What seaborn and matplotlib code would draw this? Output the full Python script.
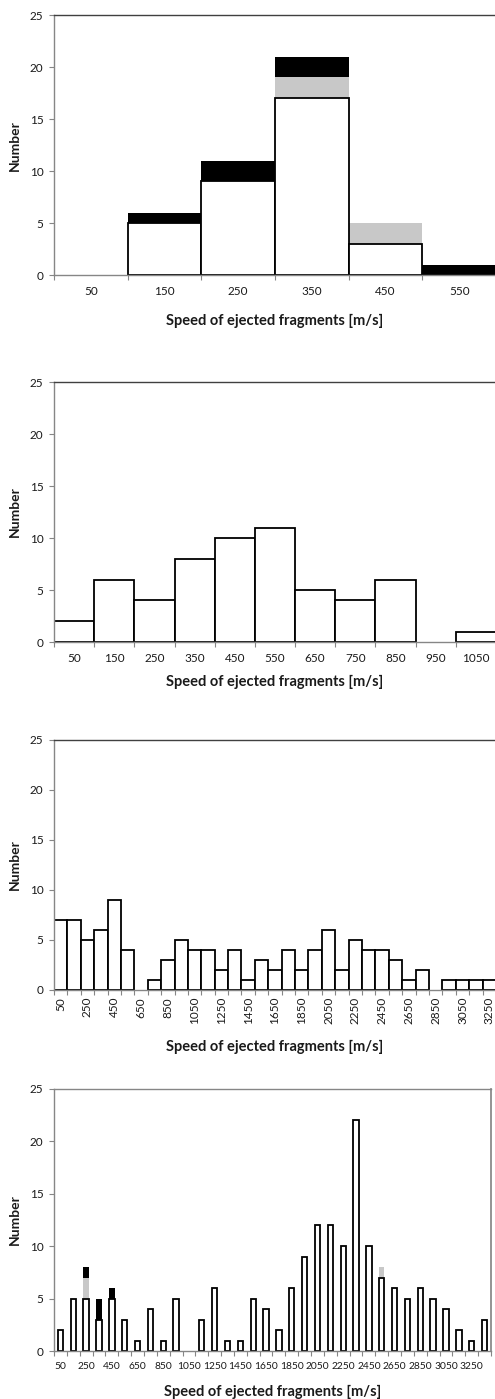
import numpy as np
import pandas as pd
import matplotlib
matplotlib.use("Agg")
import matplotlib.pyplot as plt
import seaborn as sns

# panel 1: stacked (white / grey / black)
cats1 = [50, 150, 250, 350, 450, 550]
white1 = [0, 5, 9, 17, 3, 0]
grey1 = [0, 0, 0, 2, 2, 0]
black1 = [0, 1, 2, 2, 0, 1]

# panel 2
cats2 = [50, 150, 250, 350, 450, 550, 650, 750, 850, 950, 1050]
white2 = [2, 6, 4, 8, 10, 11, 5, 4, 6, 0, 1]

# panel 3
cats3 = list(range(50, 3251, 100))
white3 = [7, 7, 5, 6, 9, 4, 0, 1, 3, 5, 4, 4, 2, 4, 1, 3, 2, 4, 2, 4,
          6, 2, 5, 4, 4, 3, 1, 2, 0, 1, 1, 1, 1]

# panel 4: stacked
cats4 = list(range(50, 3351, 100))
white4 = [2, 5, 5, 3, 5, 3, 1, 4, 1, 5, 0, 3, 6, 1, 1, 5, 4, 2, 6, 9,
          12, 12, 10, 22, 10, 7, 6, 5, 6, 5, 4, 2, 1, 3]
grey4 = [0, 0, 2, 0, 0, 0, 0, 0, 0, 0, 0, 0, 0, 0, 0, 0, 0, 0, 0, 0,
         0, 0, 0, 0, 0, 1, 0, 0, 0, 0, 0, 0, 0, 0]
black4 = [0, 0, 1, 2, 1, 0, 0, 0, 0, 0, 0, 0, 0, 0, 0, 0, 0, 0, 0, 0,
          0, 0, 0, 0, 0, 0, 0, 0, 0, 0, 0, 0, 0, 0]

YTICKS = [0, 5, 10, 15, 20, 25]
XLABEL = "Speed of ejected fragments [m/s]"
SPINE = "#868686"
GREY = "#C8C8C8"
TEXT = "#1a1a1a"

sns.set_theme(style="white")
plt.rcParams["font.family"] = ["Lato", "DejaVu Sans"]


def draw_panel(ax, cats, white, grey=None, black=None, width=1.0,
               label_step=1, rotate=False, xlabel_y=-0.18, full_box=False,
               xsize=8.5):
    n = len(cats)
    labels = [str(c) for c in cats]
    white = np.array(white)
    grey = np.zeros(n) if grey is None else np.array(grey)
    black = np.zeros(n) if black is None else np.array(black)
    # stacked look: draw cumulative totals back to front
    layers = [
        (white + grey + black, "black", "none", 0),
        (white + grey, GREY, "none", 0),
        (white, "white", "black", 1.3),
    ]
    for heights, face, edge, lw in layers:
        df = pd.DataFrame({"speed": labels, "count": heights})
        df = df[df["count"] > 0]
        sns.barplot(data=df, x="speed", y="count", order=labels,
                    color=face, saturation=1, width=width,
                    edgecolor=edge, linewidth=lw, ax=ax)
    ax.set_xlim(-0.5, n - 0.5)
    ax.set_ylim(0, 25)
    ax.set_yticks(YTICKS)
    ax.set_xticks(range(0, n, label_step))
    ax.set_xticklabels(labels[::label_step], rotation=90 if rotate else 0)
    ax.set_xticks(np.arange(-0.5, n, 1), minor=True)
    ax.tick_params(axis="x", which="major", length=0, pad=8 if not rotate else 5,
                   labelsize=xsize, labelcolor=TEXT)
    ax.tick_params(axis="x", which="minor", length=3.5, width=0.8,
                   color=SPINE, direction="out", bottom=True)
    ax.tick_params(axis="y", length=3.5, width=0.8, color=SPINE,
                   direction="out", left=True, labelsize=8.5,
                   labelcolor=TEXT, pad=4)
    for side in ["left", "bottom"]:
        ax.spines[side].set_color(SPINE)
        ax.spines[side].set_linewidth(1.0)
    if full_box:
        ax.spines["top"].set_color(SPINE)
        ax.spines["right"].set_color(SPINE)
    else:
        ax.spines["top"].set_color("#404040")
        ax.spines["right"].set_visible(False)
    ax.spines["top"].set_linewidth(1.0)
    ax.set_ylabel("Number", fontsize=10, fontweight="bold", color=TEXT)
    ax.yaxis.set_label_coords(-0.075, 0.5)
    ax.set_xlabel(XLABEL, fontsize=10.5, fontweight="bold", color=TEXT)
    ax.xaxis.set_label_coords(0.5, xlabel_y)


fig = plt.figure(figsize=(4.95, 13.99), dpi=100)
ax1 = fig.add_axes([0.109, 0.8034, 0.893, 0.1858])
ax2 = fig.add_axes([0.109, 0.5411, 0.893, 0.1858])
ax3 = fig.add_axes([0.109, 0.2924, 0.893, 0.1787])
ax4 = fig.add_axes([0.109, 0.0343, 0.883, 0.1873])

draw_panel(ax1, cats1, white1, grey1, black1, xlabel_y=-0.15)
draw_panel(ax2, cats2, white2, xlabel_y=-0.125)
draw_panel(ax3, cats3, white3, label_step=2, rotate=True, xlabel_y=-0.2)
draw_panel(ax4, cats4, white4, grey4, black4, width=0.42, label_step=2,
           xlabel_y=-0.13, full_box=True, xsize=7.4)

fig.savefig("out.png", dpi=100)
